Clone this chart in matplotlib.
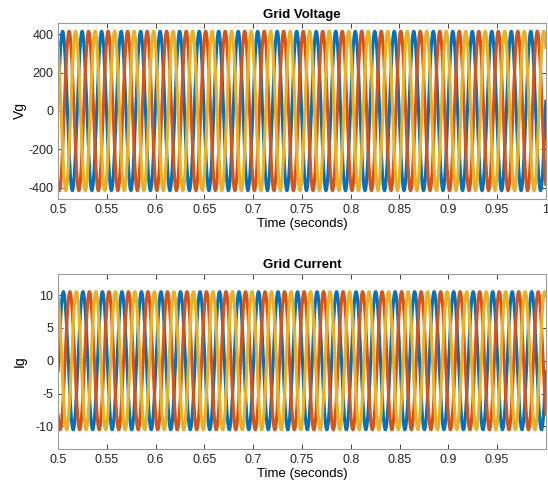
import numpy as np
import matplotlib
matplotlib.use('Agg')
import matplotlib.pyplot as plt

plt.rcParams.update({'font.size': 9, 'font.family': ['Liberation Sans', 'DejaVu Sans'],
                     'axes.unicode_minus': False})

# waveform parameters
FREQ = 50.0                      # Hz, ~25 cycles over 0.5 s
T_START, T_END = 0.5, 1.0
V_AMP = 415.0                    # grid voltage peak
V_PHASE_DEG = 7.0                # phase of phase A at t = 0.5
I_AMP = 10.5                     # grid current peak
I_PHASE_DEG = -8.0
PHASE_SHIFTS_DEG = [0.0, -120.0, 120.0]
COLORS = ['#0072BD', '#D95319', '#EDB120']

V_TICKS = [-400, -200, 0, 200, 400]
I_TICKS = [-10, -5, 0, 5, 10]
X_TICKS_TOP = [0.5, 0.55, 0.6, 0.65, 0.7, 0.75, 0.8, 0.85, 0.9, 0.95, 1.0]
X_TICKS_BOT = [0.5, 0.55, 0.6, 0.65, 0.7, 0.75, 0.8, 0.85, 0.9, 0.95]


def label(v):
    return f"{v:.2f}".rstrip('0').rstrip('.')


def three_phase(t, amp, phase_deg):
    return [amp * np.sin(2 * np.pi * FREQ * t + np.deg2rad(phase_deg + s)) for s in PHASE_SHIFTS_DEG]


def style(ax):
    ax.tick_params(direction='in', top=True, right=True, length=3.5, width=0.6,
                   colors='#262626', labelcolor='#262626')
    for sp in ax.spines.values():
        sp.set_color('#9a9a9a')
        sp.set_linewidth(0.8)


t = np.linspace(T_START, T_END, 8000)

fig = plt.figure(figsize=(5.48, 4.91), dpi=100)
ax1 = fig.add_axes([0.106, 0.595, 0.890, 0.358])
ax2 = fig.add_axes([0.106, 0.086, 0.890, 0.356])

for y, c in zip(three_phase(t, V_AMP, V_PHASE_DEG), COLORS):
    ax1.plot(t, y, color=c, lw=2.3)
ax1.set_xlim(0.5, 1.0)
ax1.set_ylim(-458, 458)
ax1.set_yticks(V_TICKS)
ax1.set_xticks(X_TICKS_TOP)
ax1.set_xticklabels([label(v) for v in X_TICKS_TOP])
ax1.set_ylabel('Vg', fontsize=10, labelpad=1)
ax1.set_xlabel('Time (seconds)', fontsize=9.5, labelpad=2)
ax1.set_title('Grid Voltage', fontsize=9.5, fontweight='bold', pad=4)
style(ax1)

for y, c in zip(three_phase(t, I_AMP, I_PHASE_DEG), COLORS):
    ax2.plot(t, y, color=c, lw=2.3)
ax2.set_xlim(0.5, 0.9999)
ax2.set_ylim(-13.4, 13.2)
ax2.set_yticks(I_TICKS)
ax2.set_xticks(X_TICKS_BOT)
ax2.set_xticklabels([label(v) for v in X_TICKS_BOT])
ax2.set_ylabel('Ig', fontsize=10, labelpad=6)
ax2.set_xlabel('Time (seconds)', fontsize=9.5, labelpad=2)
ax2.set_title('Grid Current', fontsize=9.5, fontweight='bold', pad=4)
style(ax2)

fig.savefig('out.png', dpi=100)
